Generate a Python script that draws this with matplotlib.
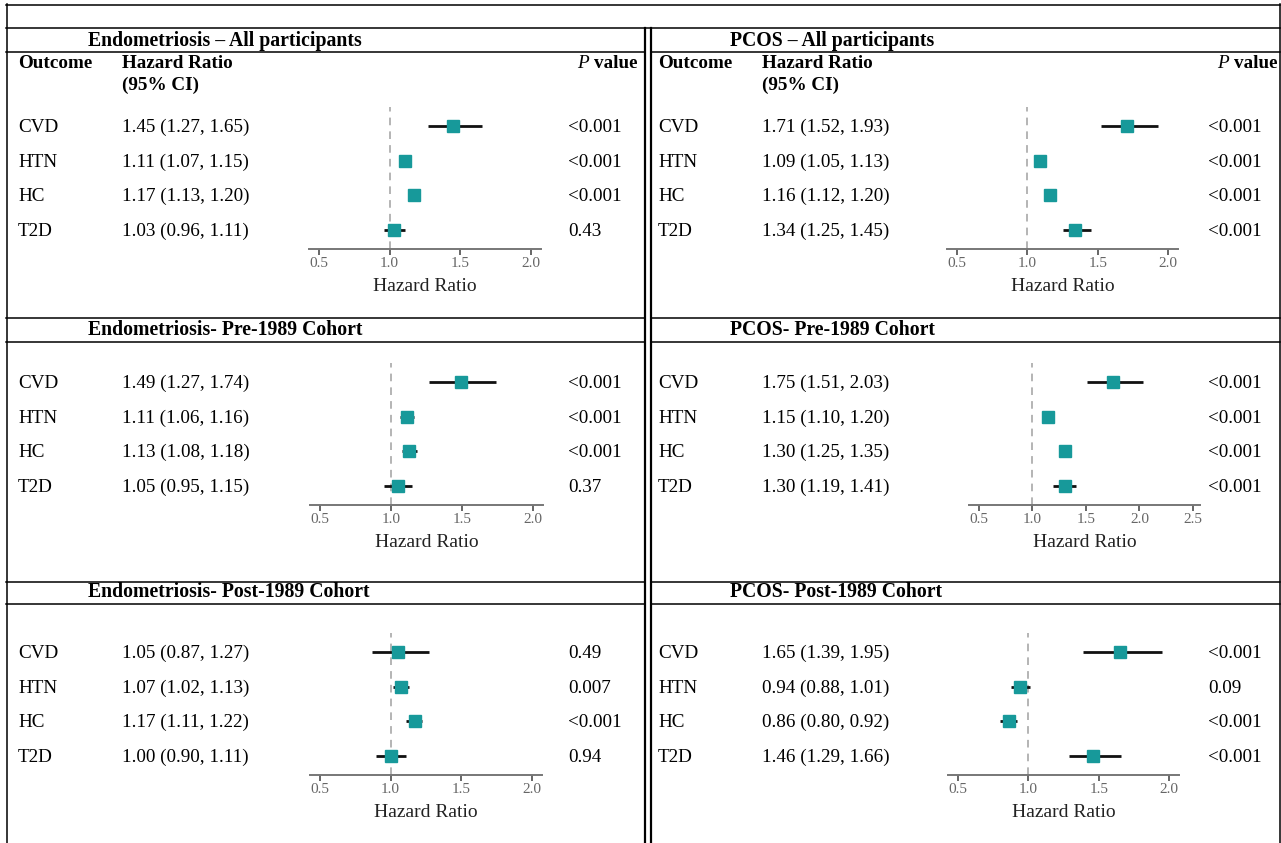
import numpy as np
import matplotlib.pyplot as plt
from matplotlib.lines import Line2D

plt.rcParams['font.family'] = ['Liberation Serif', 'DejaVu Serif']

W, H = 1281, 843

outcomes = ['CVD', 'HTN', 'HC', 'T2D']

# Endometriosis
endo_all_hr = [1.45, 1.11, 1.17, 1.03]
endo_all_lo = [1.27, 1.07, 1.13, 0.96]
endo_all_hi = [1.65, 1.15, 1.20, 1.11]
endo_all_p = ['<0.001', '<0.001', '<0.001', '0.43']

endo_pre_hr = [1.49, 1.11, 1.13, 1.05]
endo_pre_lo = [1.27, 1.06, 1.08, 0.95]
endo_pre_hi = [1.74, 1.16, 1.18, 1.15]
endo_pre_p = ['<0.001', '<0.001', '<0.001', '0.37']

endo_post_hr = [1.05, 1.07, 1.17, 1.00]
endo_post_lo = [0.87, 1.02, 1.11, 0.90]
endo_post_hi = [1.27, 1.13, 1.22, 1.11]
endo_post_p = ['0.49', '0.007', '<0.001', '0.94']

# PCOS
pcos_all_hr = [1.71, 1.09, 1.16, 1.34]
pcos_all_lo = [1.52, 1.05, 1.12, 1.25]
pcos_all_hi = [1.93, 1.13, 1.20, 1.45]
pcos_all_p = ['<0.001', '<0.001', '<0.001', '<0.001']

pcos_pre_hr = [1.75, 1.15, 1.30, 1.30]
pcos_pre_lo = [1.51, 1.10, 1.25, 1.19]
pcos_pre_hi = [2.03, 1.20, 1.35, 1.41]
pcos_pre_p = ['<0.001', '<0.001', '<0.001', '<0.001']

pcos_post_hr = [1.65, 0.94, 0.86, 1.46]
pcos_post_lo = [1.39, 0.88, 0.80, 1.29]
pcos_post_hi = [1.95, 1.01, 0.92, 1.66]
pcos_post_p = ['<0.001', '0.09', '<0.001', '<0.001']

ticks_short = [0.5, 1.0, 1.5, 2.0]
ticks_long = [0.5, 1.0, 1.5, 2.0, 2.5]

TEAL = '#17999a'
FS = 13.8
ROW = 34.7


def fx(x):
    return x / W


def fy(y):
    return 1 - y / H


fig = plt.figure(figsize=(W / 100, H / 100), dpi=100)


def hline(y, x0, x1, lw=1.1):
    fig.add_artist(Line2D([fx(x0), fx(x1)], [fy(y), fy(y)], color='black',
                          lw=lw, transform=fig.transFigure))


def vline(x, y0, y1, lw=1.1):
    fig.add_artist(Line2D([fx(x), fx(x)], [fy(y0), fy(y1)], color='black',
                          lw=lw, transform=fig.transFigure))


def txt(x, y, s, **kw):
    kw.setdefault('fontsize', FS)
    return fig.text(fx(x), fy(y), s, va='baseline', **kw)


# frame
hline(4.5, 6, 1280)
vline(6.5, 4, H)
vline(1279.5, 4, H)
hline(28, 6, 1280)
for y in [52, 318, 342, 582, 604]:
    hline(y, 6, 644)
    hline(y, 651, 1280)
vline(644.5, 28, H, lw=1.6)
vline(650.5, 28, H, lw=1.6)

# sections: title row center, first data row center
sections = [(41, 126), (330, 382), (592, 652)]

panels = [
    # (section, left x, title, hr, lo, hi, p, axis span px, xlim, ticks)
    (0, 0, 'Endometriosis \u2013 All participants', endo_all_hr, endo_all_lo, endo_all_hi, endo_all_p,
     (309, 541), (0.43, 2.07), ticks_short),
    (1, 0, 'Endometriosis- Pre-1989 Cohort', endo_pre_hr, endo_pre_lo, endo_pre_hi, endo_pre_p,
     (310, 543), (0.43, 2.07), ticks_short),
    (2, 0, 'Endometriosis- Post-1989 Cohort', endo_post_hr, endo_post_lo, endo_post_hi, endo_post_p,
     (310, 542), (0.43, 2.07), ticks_short),
    (0, 640, 'PCOS \u2013 All participants', pcos_all_hr, pcos_all_lo, pcos_all_hi, pcos_all_p,
     (947, 1178), (0.43, 2.07), ticks_short),
    (1, 640, 'PCOS- Pre-1989 Cohort', pcos_pre_hr, pcos_pre_lo, pcos_pre_hi, pcos_pre_p,
     (969, 1200), (0.407, 2.566), ticks_long),
    (2, 640, 'PCOS- Post-1989 Cohort', pcos_post_hr, pcos_post_lo, pcos_post_hi, pcos_post_p,
     (948, 1179), (0.43, 2.07), ticks_short),
]

pv_headers = []
for sec, ox, title, hr, lo, hi, p, span, xlim, ticks in panels:
    ty, r0 = sections[sec]
    txt(88 + ox * 1.0025, ty + 5, title, fontweight='bold', fontsize=14.2)

    if sec == 0:
        txt(18 + ox, 68, 'Outcome', fontweight='bold')
        txt(122 + ox, 68, 'Hazard Ratio', fontweight='bold')
        txt(122 + ox, 90, '(95% CI)', fontweight='bold')
        pv = txt(637 + ox, 68, 'value', fontweight='bold', ha='right')
        pv_headers.append(pv)

    for i, name in enumerate(outcomes):
        y = r0 + i * ROW + 6
        txt(18 + ox, y, name)
        txt(122 + ox, y, f'{hr[i]:.2f} ({lo[i]:.2f}, {hi[i]:.2f})')
        txt(568 + ox, y, p[i])

    # forest plot
    axis_y = r0 + 3 * ROW + 19
    top_y = r0 - 19
    ax = fig.add_axes([fx(span[0]), fy(axis_y), (span[1] - span[0]) / W,
                       (axis_y - top_y) / H])
    ax.set_xlim(*xlim)
    ax.set_ylim(3 + 19 / ROW, -19 / ROW)
    ax.axvline(1.0, color='#a0a0a0', lw=1.1, ls=(0, (5, 4)), zorder=1)
    rows = np.arange(len(outcomes))
    ax.hlines(rows, lo, hi, color='#111111', lw=2.0, zorder=2)
    ax.plot(hr, rows, 's', color=TEAL, ms=8, mec=TEAL, zorder=3)
    ax.set_xticks(ticks)
    ax.set_xticklabels([f'{t:.1f}' for t in ticks])
    ax.tick_params(axis='x', colors='#666666', labelcolor='#666666', labelsize=11,
                   length=4, width=1.4, pad=2)
    ax.set_yticks([])
    for s in ['top', 'left', 'right']:
        ax.spines[s].set_visible(False)
    ax.spines['bottom'].set_color('#777777')
    ax.spines['bottom'].set_linewidth(1.4)
    ax.patch.set_alpha(0)
    txt((span[0] + span[1]) / 2, axis_y + 42, 'Hazard Ratio', ha='center',
        color='#222222', fontsize=14)

# italic P in front of the bold "value"
fig.canvas.draw()
r = fig.canvas.get_renderer()
for pv in pv_headers:
    bb = pv.get_window_extent(r)
    fig.text(bb.x0 / W - 4.5 / W, pv.get_position()[1], 'P', style='italic',
             fontsize=FS, va='baseline', ha='right')

fig.savefig('out.png', dpi=100)
